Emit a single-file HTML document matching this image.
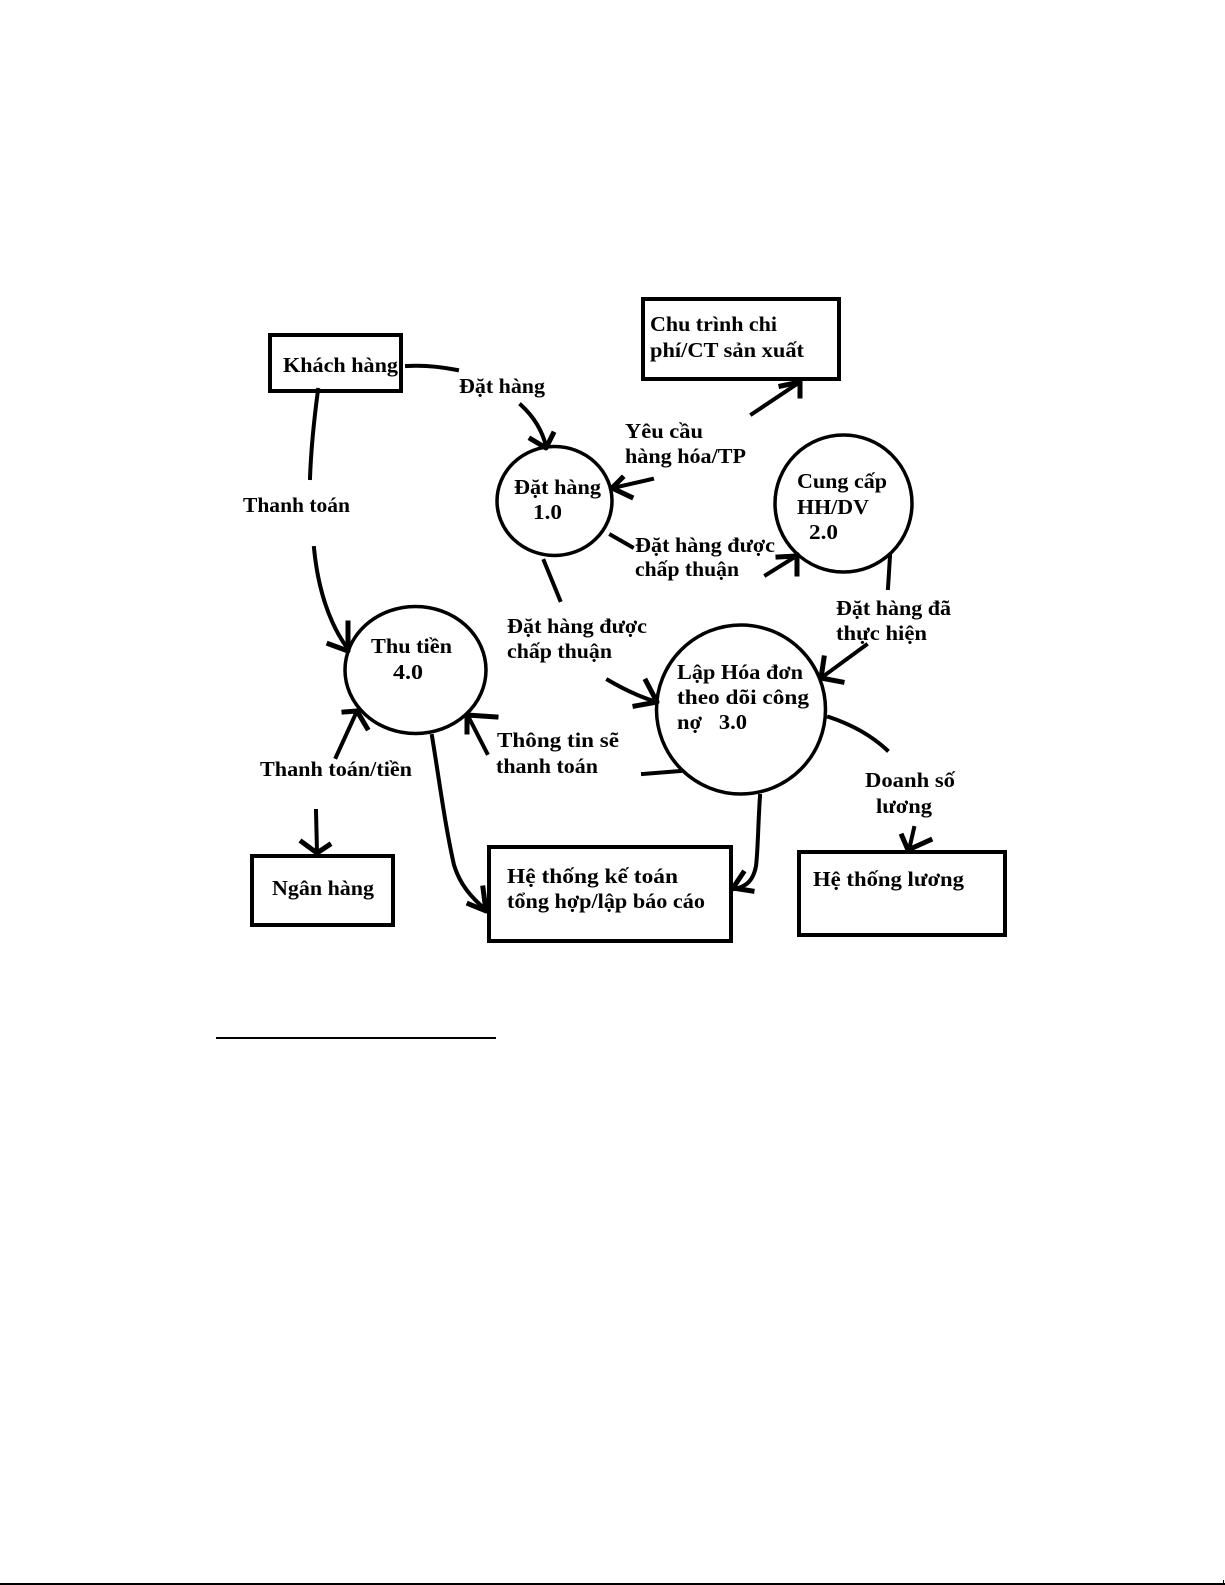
<!DOCTYPE html>
<html>
<head>
<meta charset="utf-8">
<style>
html,body{margin:0;padding:0;background:#fff;width:1225px;height:1585px;overflow:hidden}
svg{display:block}
text{font-family:"Liberation Serif","DejaVu Serif",serif;font-weight:bold;font-size:21px;fill:#000;white-space:pre}
.s{fill:none;stroke:#000;stroke-linecap:butt;stroke-linejoin:miter}
.f{fill:none;stroke:#000;stroke-width:4;stroke-linecap:square;stroke-linejoin:round}
.h{fill:none;stroke:#000;stroke-width:5;stroke-linecap:square;stroke-linejoin:round}
</style>
</head>
<body>
<svg xmlns="http://www.w3.org/2000/svg" width="1225" height="1585" viewBox="0 0 1225 1585">
<rect width="1225" height="1585" fill="#fff"/>
<!-- boxes -->
<rect class="s" stroke-width="4" x="270" y="335" width="131" height="56"/>
<rect class="s" stroke-width="4" x="643" y="299" width="196" height="80"/>
<rect class="s" stroke-width="4" x="252" y="856" width="141" height="69"/>
<rect class="s" stroke-width="4" x="489" y="847" width="242" height="94"/>
<rect class="s" stroke-width="4" x="799" y="852" width="206" height="83"/>
<!-- circles -->
<ellipse class="s" stroke-width="3.5" cx="554.5" cy="501" rx="57.5" ry="54.5"/>
<circle class="s" stroke-width="3.5" cx="843.5" cy="503.5" r="68.5"/>
<ellipse class="s" stroke-width="3.5" cx="415.5" cy="670" rx="70.5" ry="63.5"/>
<circle class="s" stroke-width="3.5" cx="741" cy="709.5" r="84.5"/>
<!-- connectors -->
<path class="f" d="M407,366 C425,365 442,367 457,370"/>
<path class="f" d="M521,405 C533,416 542,430 546,446"/>
<path class="h" d="M531,439 L546,448 L553,434"/>
<path class="f" d="M318,390 C314,420 311,450 310,478"/>
<path class="f" d="M314,548 C318,590 330,625 348,649"/>
<path class="h" d="M348,623 L348,651 L329,644"/>
<path class="f" d="M544,561 L560,600"/>
<path class="f" d="M611,535 L632,547"/>
<path class="f" d="M652,479 L613,488"/>
<path class="h" d="M622,478 L612,488 L631,497"/>
<path class="f" d="M752,414 L800,382"/>
<path class="h" d="M781,386 L800,382 L800,396"/>
<path class="f" d="M766,575 L798,555"/>
<path class="h" d="M778,557 L797,556 L797,574"/>
<path class="f" d="M890,556 L888,588"/>
<path class="f" d="M866,645 L821,678"/>
<path class="h" d="M824,658 L821,678 L842,682"/>
<path class="f" d="M608,680 C625,690 640,697 657,702"/>
<path class="h" d="M646,681 L657,702 L635,706"/>
<path class="f" d="M829,717 C853,725 873,737 887,750"/>
<path class="f" d="M914,828 L909,850"/>
<path class="h" d="M902,836 L908,850 L930,840"/>
<path class="f" d="M643,774 L680,771"/>
<path class="f" d="M760,796 C758,825 758,850 756,866 C753,882 745,887 734,889"/>
<path class="h" d="M743,873 L733,888 L752,891"/>
<path class="f" d="M432,736 C440,785 445,825 454,865 C460,885 472,898 486,910"/>
<path class="h" d="M483,888 L486,911 L469,904"/>
<path class="f" d="M336,757 L357,711"/>
<path class="h" d="M344,712 L357,711 L367,728"/>
<path class="f" d="M487,753 L468,716"/>
<path class="h" d="M467,732 L467,715 L496,717"/>
<path class="f" d="M316,811 L317,852"/>
<path class="h" d="M302,842 L317,853 L329,845"/>
<!-- labels -->
<text x="283" y="372" textLength="115" lengthAdjust="spacingAndGlyphs">Khách hàng</text>
<text x="459" y="393" textLength="86" lengthAdjust="spacingAndGlyphs">Đặt hàng</text>
<text x="243" y="512" textLength="107" lengthAdjust="spacingAndGlyphs">Thanh toán</text>
<text x="514" y="494" textLength="87" lengthAdjust="spacingAndGlyphs">Đặt hàng</text>
<text x="533" y="519" textLength="29" lengthAdjust="spacingAndGlyphs">1.0</text>
<text x="507" y="633" textLength="140" lengthAdjust="spacingAndGlyphs">Đặt hàng được</text>
<text x="507" y="658" textLength="105" lengthAdjust="spacingAndGlyphs">chấp thuận</text>
<text x="650" y="331" textLength="127" lengthAdjust="spacingAndGlyphs">Chu trình chi</text>
<text x="650" y="357" textLength="154" lengthAdjust="spacingAndGlyphs">phí/CT sản xuất</text>
<text x="625" y="438" textLength="78" lengthAdjust="spacingAndGlyphs">Yêu cầu</text>
<text x="625" y="463" textLength="121" lengthAdjust="spacingAndGlyphs">hàng hóa/TP</text>
<text x="797" y="488" textLength="90" lengthAdjust="spacingAndGlyphs">Cung cấp</text>
<text x="797" y="514" textLength="72" lengthAdjust="spacingAndGlyphs">HH/DV</text>
<text x="809" y="539" textLength="29" lengthAdjust="spacingAndGlyphs">2.0</text>
<text x="635" y="552" textLength="140" lengthAdjust="spacingAndGlyphs">Đặt hàng được</text>
<text x="635" y="576" textLength="104" lengthAdjust="spacingAndGlyphs">chấp thuận</text>
<text x="836" y="615" textLength="115" lengthAdjust="spacingAndGlyphs">Đặt hàng đã</text>
<text x="836" y="640" textLength="91" lengthAdjust="spacingAndGlyphs">thực hiện</text>
<text x="371" y="653" textLength="81" lengthAdjust="spacingAndGlyphs">Thu tiền</text>
<text x="393" y="679" textLength="30" lengthAdjust="spacingAndGlyphs">4.0</text>
<text x="497" y="747" textLength="122" lengthAdjust="spacingAndGlyphs">Thông tin sẽ</text>
<text x="496" y="773" textLength="102" lengthAdjust="spacingAndGlyphs">thanh toán</text>
<text x="260" y="776" textLength="152" lengthAdjust="spacingAndGlyphs">Thanh toán/tiền</text>
<text x="272" y="895" textLength="102" lengthAdjust="spacingAndGlyphs">Ngân hàng</text>
<text x="507" y="883" textLength="171" lengthAdjust="spacingAndGlyphs">Hệ thống kế toán</text>
<text x="507" y="908" textLength="198" lengthAdjust="spacingAndGlyphs">tổng hợp/lập báo cáo</text>
<text x="677" y="679" textLength="126" lengthAdjust="spacingAndGlyphs">Lập Hóa đơn</text>
<text x="677" y="704" textLength="132" lengthAdjust="spacingAndGlyphs">theo dõi công</text>
<text x="677" y="729" textLength="70" lengthAdjust="spacingAndGlyphs">nợ   3.0</text>
<text x="865" y="787" textLength="90" lengthAdjust="spacingAndGlyphs">Doanh số</text>
<text x="876" y="813" textLength="56" lengthAdjust="spacingAndGlyphs">lương</text>
<text x="813" y="886" textLength="151" lengthAdjust="spacingAndGlyphs">Hệ thống lương</text>
<!-- footnote rule and bottom edge -->
<rect x="216" y="1037" width="280" height="2" fill="#000"/>
<rect x="0" y="1583" width="1225" height="2" fill="#000"/>
<rect x="1223" y="1580" width="1" height="4" fill="#000"/>
</svg>
</body>
</html>
